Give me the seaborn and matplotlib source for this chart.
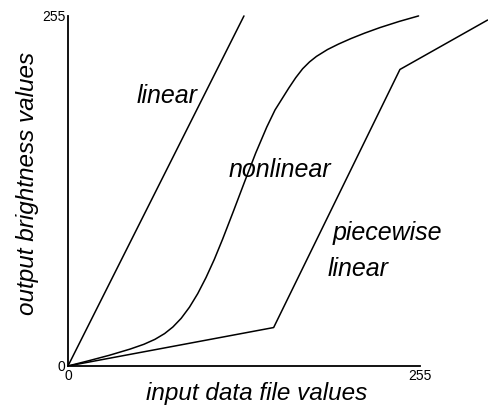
import numpy as np
import pandas as pd
import seaborn as sns
import matplotlib.pyplot as plt

# curves (input value -> output value)
linear_x = [0, 127.5]
linear_y = [0, 255]

nonlinear_x = [0, 15, 30, 45, 55, 63, 70, 76, 82, 88, 94, 100, 106, 112,
               120, 128, 136, 144, 150, 155, 160, 165, 170, 175, 180, 188,
               196, 205, 215, 226, 240, 254]
nonlinear_y = [0, 3.8, 7.8, 12.3, 15.8, 19.4, 23.6, 28.4, 34.7, 42.8, 52.7,
               64.4, 77.6, 92.3, 113.1, 134.3, 155.1, 174, 186.5, 194.5,
               202.5, 210, 216.5, 221.5, 225.5, 230.5, 234.5, 238.5, 242.5,
               246.5, 251, 255]

piecewise_x = [0, 149, 240.5, 304]
piecewise_y = [0, 28, 216, 252]

tick_values = [0, 255]
tick_labels = ["0", "255"]

df = pd.concat([
    pd.DataFrame({"x": linear_x, "y": linear_y, "curve": "linear"}),
    pd.DataFrame({"x": nonlinear_x, "y": nonlinear_y, "curve": "nonlinear"}),
    pd.DataFrame({"x": piecewise_x, "y": piecewise_y, "curve": "piecewise"}),
])

sns.set_style("white")
plt.rcParams["font.family"] = ["Liberation Sans", "DejaVu Sans"]
plt.rcParams["text.color"] = "black"

fig = plt.figure(figsize=(4.88, 4.08), dpi=100)
ax = fig.add_axes([0.1393, 0.103, 0.8607, 0.897])

sns.lineplot(data=df, x="x", y="y", hue="curve", units="curve", estimator=None,
             sort=False, palette=["black"] * 3, legend=False, linewidth=1.1, ax=ax)

ax.set_xlim(0, 304.3)
ax.set_ylim(0, 266.6)
for s in ["top", "right"]:
    ax.spines[s].set_visible(False)
for s in ["left", "bottom"]:
    ax.spines[s].set_bounds(0, 255)
    ax.spines[s].set_color("black")
    ax.spines[s].set_linewidth(1.3)

ax.set_xticks(tick_values)
ax.set_xticklabels(tick_labels)
ax.set_yticks(tick_values)
ax.set_yticklabels(tick_labels)
ax.tick_params(length=0, labelsize=10, pad=2, labelcolor="black")

ax.set_xlabel("input data file values", fontsize=17.5, style="italic", color="black")
ax.xaxis.set_label_coords(0.45, -0.043)
ax.set_ylabel("output brightness values", fontsize=17.5, style="italic",
              labelpad=2, color="black")

tfont = dict(fontsize=18, style="italic", va="center", ha="left", color="black")
ax.text(50, 197, "linear", **tfont)
ax.text(116, 143, "nonlinear", **tfont)
ax.text(192, 97, "piecewise", **tfont)
ax.text(188, 71, "linear", **tfont)

fig.savefig("out.png", dpi=100)
